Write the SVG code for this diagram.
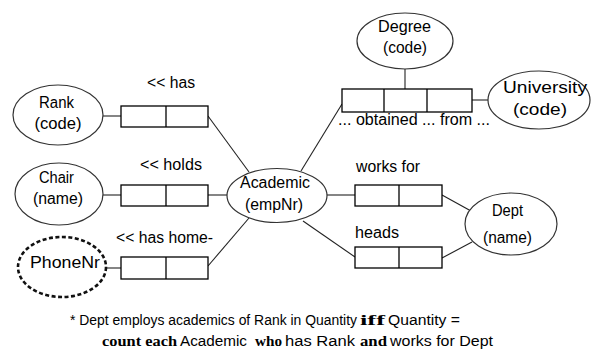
<svg xmlns="http://www.w3.org/2000/svg" width="601" height="356" viewBox="0 0 601 356">
  <style>
    .ent { fill: #fff; stroke: #333; stroke-width: 1.2; }
    .val { fill: #fff; stroke: #111; stroke-width: 2.6; stroke-dasharray: 4 2.5; }
    .role { fill: #fff; stroke: #000; stroke-width: 1.3; }
    .ln { stroke: #222; stroke-width: 1.1; fill: none; }
    text { font-family: "Liberation Sans", Arial, sans-serif; font-size: 16px; fill: #000; }
    .note { font-size: 14px; }
    .note2 { font-size: 15.5px; }
    .kw { font-family: "Liberation Serif", "Times New Roman", serif; font-weight: bold; }
  </style>

  <!-- connectors -->
  <g id="connectors">
    <line class="ln" x1="103" y1="116" x2="121" y2="116"/>
    <line class="ln" x1="208" y1="116" x2="249" y2="172"/>
    <line class="ln" x1="103" y1="195" x2="121" y2="195"/>
    <line class="ln" x1="208" y1="195" x2="227" y2="195"/>
    <line class="ln" x1="107" y1="268" x2="121" y2="268"/>
    <line class="ln" x1="208" y1="266" x2="249" y2="218"/>
    <line class="ln" x1="327" y1="195" x2="355" y2="195"/>
    <line class="ln" x1="303" y1="221" x2="355" y2="257"/>
    <line class="ln" x1="442" y1="195" x2="471" y2="211"/>
    <line class="ln" x1="442" y1="258" x2="472" y2="242"/>
    <line class="ln" x1="405" y1="68" x2="405" y2="89"/>
    <line class="ln" x1="472" y1="100" x2="488" y2="100"/>
    <line class="ln" x1="342" y1="104" x2="301" y2="171"/>
  </g>

  <!-- entity types -->
  <g id="rank">
    <ellipse class="ent" cx="58" cy="115" rx="45" ry="30"/>
    <text x="56.5" y="108" text-anchor="middle" textLength="35" lengthAdjust="spacingAndGlyphs">Rank</text>
    <text x="58" y="129" text-anchor="middle" textLength="47" lengthAdjust="spacingAndGlyphs">(code)</text>
  </g>
  <g id="chair">
    <ellipse class="ent" cx="59" cy="194" rx="44" ry="31"/>
    <text x="56.5" y="183" text-anchor="middle" textLength="35" lengthAdjust="spacingAndGlyphs">Chair</text>
    <text x="58" y="204" text-anchor="middle" textLength="50" lengthAdjust="spacingAndGlyphs">(name)</text>
  </g>
  <g id="phonenr">
    <ellipse class="val" cx="62" cy="267" rx="44" ry="30"/>
    <text x="65" y="268" text-anchor="middle" textLength="70" lengthAdjust="spacingAndGlyphs">PhoneNr</text>
  </g>
  <g id="academic">
    <ellipse class="ent" cx="277" cy="195.5" rx="50" ry="27"/>
    <text x="275" y="188" text-anchor="middle" textLength="70" lengthAdjust="spacingAndGlyphs">Academic</text>
    <text x="274" y="210" text-anchor="middle" textLength="58" lengthAdjust="spacingAndGlyphs">(empNr)</text>
  </g>
  <g id="dept">
    <ellipse class="ent" cx="511" cy="224" rx="46" ry="31"/>
    <text x="507.5" y="216" text-anchor="middle" textLength="31" lengthAdjust="spacingAndGlyphs">Dept</text>
    <text x="507.5" y="243" text-anchor="middle" textLength="49" lengthAdjust="spacingAndGlyphs">(name)</text>
  </g>
  <g id="degree">
    <ellipse class="ent" cx="405" cy="41" rx="48" ry="28"/>
    <text x="404.5" y="32" text-anchor="middle" textLength="53" lengthAdjust="spacingAndGlyphs">Degree</text>
    <text x="405" y="53" text-anchor="middle" textLength="44" lengthAdjust="spacingAndGlyphs">(code)</text>
  </g>
  <g id="university">
    <ellipse class="ent" cx="539" cy="100" rx="51" ry="29"/>
    <text x="545" y="93" text-anchor="middle" textLength="84" lengthAdjust="spacingAndGlyphs">University</text>
    <text x="540" y="115" text-anchor="middle" textLength="54" lengthAdjust="spacingAndGlyphs">(code)</text>
  </g>

  <!-- fact types -->
  <g id="has-rank">
    <rect class="role" x="121" y="106" width="87" height="21"/>
    <line class="role" x1="166" y1="106" x2="166" y2="127"/>
    <text x="147" y="88" textLength="48" lengthAdjust="spacingAndGlyphs">&lt;&lt; has</text>
  </g>
  <g id="holds-chair">
    <rect class="role" x="121" y="185" width="87" height="21"/>
    <line class="role" x1="166" y1="185" x2="166" y2="206"/>
    <text x="140" y="170" textLength="62" lengthAdjust="spacingAndGlyphs">&lt;&lt; holds</text>
  </g>
  <g id="has-homephone">
    <rect class="role" x="121" y="257" width="87" height="22"/>
    <line class="role" x1="166" y1="257" x2="166" y2="279"/>
    <text x="116" y="243" textLength="97" lengthAdjust="spacingAndGlyphs">&lt;&lt; has home-</text>
  </g>
  <g id="works-for">
    <rect class="role" x="355" y="185" width="87" height="21"/>
    <line class="role" x1="399" y1="185" x2="399" y2="206"/>
    <text x="356" y="172" textLength="64" lengthAdjust="spacingAndGlyphs">works for</text>
  </g>
  <g id="heads">
    <rect class="role" x="355" y="247" width="87" height="21"/>
    <line class="role" x1="399" y1="247" x2="399" y2="268"/>
    <text x="355" y="238" textLength="44" lengthAdjust="spacingAndGlyphs">heads</text>
  </g>
  <g id="obtained-from">
    <rect class="role" x="342" y="89" width="130" height="23"/>
    <line class="role" x1="384" y1="89" x2="384" y2="112"/>
    <line class="role" x1="427" y1="89" x2="427" y2="112"/>
    <text x="338" y="125" textLength="152" lengthAdjust="spacingAndGlyphs">... obtained ... from ...</text>
  </g>

  <!-- derivation rule -->
  <g id="rule">
    <text class="note" x="70" y="325" textLength="287" lengthAdjust="spacingAndGlyphs">* Dept employs academics of Rank in Quantity</text>
    <text class="note kw" x="360" y="325" textLength="25" lengthAdjust="spacingAndGlyphs">iff</text>
    <text class="note" x="388" y="325" textLength="72" lengthAdjust="spacingAndGlyphs">Quantity =</text>
    <text class="note2 kw" x="102" y="346" textLength="75" lengthAdjust="spacingAndGlyphs">count each</text>
    <text class="note2" x="180" y="346" textLength="67" lengthAdjust="spacingAndGlyphs">Academic</text>
    <text class="note2 kw" x="255" y="346" textLength="27" lengthAdjust="spacingAndGlyphs">who</text>
    <text class="note2" x="285" y="346" textLength="70" lengthAdjust="spacingAndGlyphs">has Rank</text>
    <text class="note2 kw" x="360" y="346" textLength="27" lengthAdjust="spacingAndGlyphs">and</text>
    <text class="note2" x="390" y="346" textLength="103" lengthAdjust="spacingAndGlyphs">works for Dept</text>
  </g>
</svg>
